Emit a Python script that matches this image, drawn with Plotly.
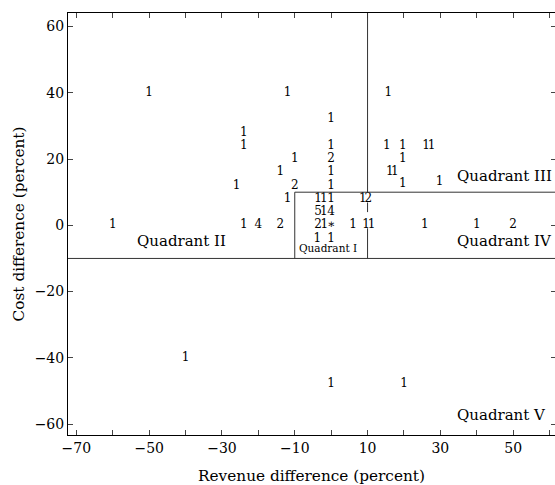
import plotly.graph_objects as go

# count labels placed at (revenue diff, cost diff)
rev = [-50, -12, 15.7, 0, -24, -24, 0, 15.3, 19.7, 26.1, 27.6,
       -10, 0, 19.7, -14, 0, 16.1, 17.5, -26, -10, 0, 19.7, 29.8,
       -12, -3.6, -2.0, 0, 8.7, 10.2,
       -3.6, -2.0, 0,
       -60, -24, -20, -14, -3.6, -1.9, 0, 6, 9.6, 11.1, 25.7, 40, 50,
       -3.8, 0,
       -40, 0, 20]
cost = [40, 40, 40, 32, 28, 24, 24, 24, 24, 24, 24,
        20, 20, 20, 16, 16, 16, 16, 12, 12, 12, 12.6, 13,
        8, 8, 8, 8, 8, 8,
        4, 4, 4,
        0, 0, 0, 0, 0, 0, 0, 0, 0, 0, 0, 0, 0,
        -4, -4,
        -40, -48, -48]
labels = ["1", "1", "1", "1", "1", "1", "1", "1", "1", "1", "1",
          "1", "2", "1", "1", "1", "1", "1", "1", "2", "1", "1", "1",
          "1", "1", "1", "1", "1", "2",
          "5", "1", "4",
          "1", "1", "4", "2", "2", "1", "∗", "1", "1", "1", "1", "1", "2",
          "1", "1",
          "1", "1", "1"]

quad_names = ["Quadrant I", "Quadrant II", "Quadrant III", "Quadrant IV", "Quadrant V"]
quad_x = [-0.9, -41.2, 34.1, 34.1, 34.1]
quad_y = [-6.8, -4.8, 14.8, -4.8, -57.2]

XR = [-72.3, 61.5]
YR = [-63.3, 64.1]
FONT = "DejaVu Serif"

fig = go.Figure()
fig.add_trace(go.Scatter(
    x=rev, y=cost, mode="text", text=labels,
    textposition="middle center",
    textfont=dict(family=FONT, size=12, color="black"),
    hoverinfo="skip", showlegend=False
))
# dummy trace so the right-hand tick axis is drawn
fig.add_trace(go.Scatter(x=[None], y=[None], yaxis="y2", showlegend=False))

line = dict(color="#333333", width=1)
shapes = [
    dict(type="line", xref="paper", yref="y", x0=0, x1=1, y0=-10, y1=-10, line=line),
    dict(type="line", xref="x", yref="y", x0=-10, x1=XR[1], y0=10, y1=10, line=line),
    dict(type="line", xref="x", yref="y", x0=-10, x1=-10, y0=-10, y1=10, line=line),
    dict(type="line", xref="x", yref="y", x0=10, x1=10, y0=10, y1=YR[1], line=line),
    dict(type="line", xref="x", yref="y", x0=10, x1=10, y0=-10, y1=-0.9, line=line),
    dict(type="line", xref="x", yref="y", x0=10, x1=10, y0=4.0, y1=6.9, line=line),
]

annotations = []
for i, name in enumerate(quad_names):
    annotations.append(dict(
        x=quad_x[i], y=quad_y[i], xref="x", yref="y", text=name, showarrow=False,
        xanchor="center" if i < 2 else "left", yanchor="middle",
        font=dict(family=FONT, size=10.5 if i == 0 else 15, color="black")
    ))

fig.update_layout(
    width=555, height=485,
    margin=dict(l=68, r=0, t=13, b=50, autoexpand=False),
    plot_bgcolor="white", paper_bgcolor="white",
    font=dict(family=FONT, size=14, color="black"),
    shapes=shapes, annotations=annotations,
    xaxis=dict(
        range=XR, tick0=-70, dtick=20, ticks="inside", ticklen=5,
        showline=True, linecolor="black", linewidth=1, mirror="ticks",
        showgrid=False, zeroline=False, automargin=False,
        minor=dict(dtick=10, tick0=-70, ticks="inside", ticklen=5, showgrid=False),
        title=dict(text="Revenue difference (percent)", standoff=18,
                   font=dict(family=FONT, size=15.3)),
        tickfont=dict(family=FONT, size=14),
    ),
    yaxis=dict(
        range=YR, tick0=-60, dtick=20, ticks="inside", ticklen=5,
        showline=True, linecolor="black", linewidth=1, mirror=False,
        showgrid=False, zeroline=False, automargin=False,
        title=dict(text="Cost difference (percent)", standoff=6,
                   font=dict(family=FONT, size=15.3)),
        tickfont=dict(family=FONT, size=14),
    ),
    yaxis2=dict(
        range=YR, tick0=-60, dtick=20, ticks="inside", ticklen=4,
        overlaying="y", side="right", anchor="x", automargin=False,
        showline=False, showticklabels=False, showgrid=False, zeroline=False,
    ),
)

fig.write_html("out.html", config={"displayModeBar": False},
               post_script="document.body.style.margin='0';")
